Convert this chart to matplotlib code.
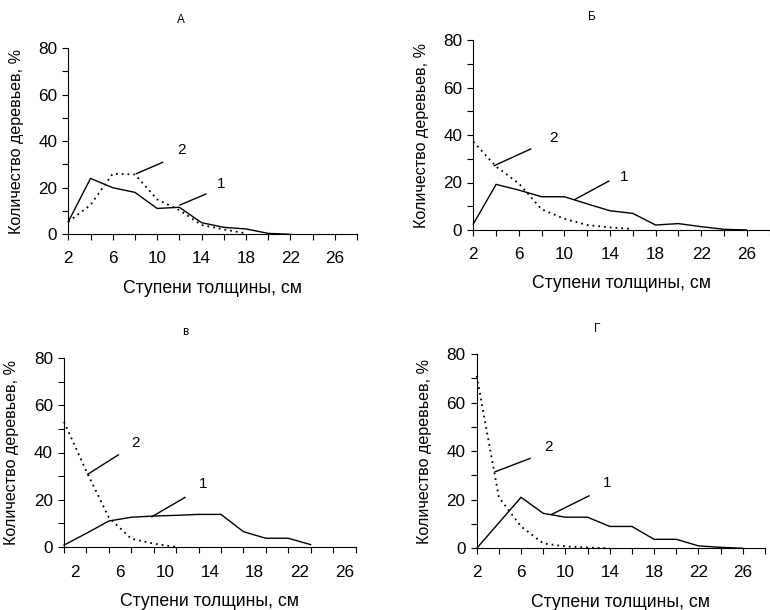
import matplotlib
matplotlib.use("Agg")
import matplotlib.pyplot as plt
import numpy as np

plt.rcParams['font.family'] = ['Liberation Sans', 'DejaVu Sans']

# --- data (% of trees by thickness step, cm) ---
a_x1 = [2, 4, 6, 8, 10, 12, 14, 16, 18, 20, 22]
a_y1 = [5.4, 24, 20, 18, 11.1, 11.6, 5, 3, 2.3, 0.4, 0]
a_x2 = [2, 4, 6, 8, 10, 12, 14, 16, 18]
a_y2 = [5.4, 12.6, 26, 25.7, 15, 10.4, 4, 2.1, 0.4]

b_x1 = [2, 4, 6, 8, 10, 12, 14, 16, 18, 20, 22, 24, 26]
b_y1 = [2.5, 19.2, 16.8, 14, 14, 11, 8.1, 7, 2.1, 2.7, 1.4, 0.3, 0]
b_x2 = [2, 4, 6, 8, 10, 12, 14, 16]
b_y2 = [37.2, 26.7, 19.6, 8.7, 4.7, 2.1, 1.1, 0.4]

v_x1 = [1, 3, 5, 7, 9, 11, 13, 15, 17, 19, 21, 23]
v_y1 = [0.8, 5.8, 11, 12.6, 13.1, 13.4, 13.8, 13.8, 6.5, 3.7, 3.7, 1]
v_x2 = [1, 3, 5, 7, 9, 11]
v_y2 = [53, 32, 12.5, 3.5, 1.4, 0]

g_x1 = [2, 4, 6, 8, 10, 12, 14, 16, 18, 20, 22, 24, 26]
g_y1 = [0, 10.5, 21, 14.4, 12.8, 12.8, 9, 9, 3.7, 3.7, 1, 0.4, 0]
g_x2 = [2, 4, 6, 8, 10, 12, 14]
g_y2 = [71, 21, 9, 2, 0.8, 0.3, 0]

titles = ['А', 'Б', 'в', 'Г']
xlabel = 'Ступени толщины, см'
ylabel = 'Количество деревьев, %'
xtick_labels = [2, 6, 10, 14, 18, 22, 26]
yticks = [0, 20, 40, 60, 80]

W, H = 770, 610


def box(l, r, t, b):
    return [l / W, 1 - b / H, (r - l) / W, (b - t) / H]


panels = [
    dict(rect=box(68.3, 357, 48, 234.3), xlim=(2, 28), x1=a_x1, y1=a_y1, x2=a_x2, y2=a_y2,
         title=(181, 20), lead2=((8.16, 26.1), (10.5, 30.9)), lab2=(12.15, 36),
         lead1=((12.06, 12.6), (14.4, 17.3)), lab1=(15.75, 21.6)),
    dict(rect=box(473.3, 769.5, 40, 230), xlim=(2, 28), x1=b_x1, y1=b_y1, x2=b_x2, y2=b_y2,
         title=(591.7, 17), lead2=((3.84, 27.1), (7.04, 34.1)), lab2=(9.0, 38.6),
         lead1=((10.93, 12.9), (13.9, 20.6)), lab1=(15.26, 22.4)),
    dict(rect=box(64, 355.5, 358, 547), xlim=(1, 27), x1=v_x1, y1=v_y1, x2=v_x2, y2=v_y2,
         title=(185, 331.7), lead2=((3.12, 30.8), (5.85, 39)), lab2=(7.34, 44),
         lead1=((8.83, 12.8), (11.8, 21)), lab1=(13.38, 26.5)),
    dict(rect=box(476.7, 765, 354, 548.3), xlim=(2, 28), x1=g_x1, y1=g_y1, x2=g_x2, y2=g_y2,
         title=(596.7, 329.3), lead2=((3.65, 31.5), (6.81, 37)), lab2=(8.46, 41.8),
         lead1=((8.77, 14), (12.13, 21.6)), lab1=(13.73, 27)),
]

fig = plt.figure(figsize=(7.7, 6.1), dpi=100)

for i, p in enumerate(panels):
    ax = fig.add_axes(p['rect'])
    ax.plot(p['x1'], p['y1'], color='black', lw=1.0, solid_joinstyle='miter', clip_on=False)
    ax.plot(p['x2'], p['y2'], color='black', lw=1.3, linestyle=(0, (1, 2.2)), clip_on=False)

    (x0, y0), (x1, y1) = p['lead2']
    ax.plot([x0, x1], [y0, y1], color='black', lw=1.0)
    ax.text(*p['lab2'], '2', fontsize=11, ha='center', va='center')
    (x0, y0), (x1, y1) = p['lead1']
    ax.plot([x0, x1], [y0, y1], color='black', lw=1.0)
    ax.text(*p['lab1'], '1', fontsize=11, ha='center', va='center')

    ax.set_xlim(*p['xlim'])
    ax.set_ylim(0, 80)
    for s in ['top', 'right']:
        ax.spines[s].set_visible(False)
    for s in ['left', 'bottom']:
        ax.spines[s].set_linewidth(0.8)

    ax.set_yticks(yticks)
    ax.set_yticks([10, 30, 50, 70], minor=True)
    lo, hi = p['xlim']
    if lo == 1:
        # labels sit between the tick marks in this panel
        ax.set_xticks(xtick_labels)
        ax.set_xticks(np.arange(1, 28, 2), minor=True)
        ax.tick_params(axis='x', which='major', length=0, pad=13)
    else:
        ax.set_xticks(xtick_labels)
        ax.set_xticks(np.arange(4, 29, 4), minor=True)
        ax.tick_params(axis='x', which='major', length=4, pad=8)
    ax.tick_params(axis='x', which='minor', length=4, width=0.8)
    ax.tick_params(axis='x', which='major', width=0.8)
    ax.tick_params(axis='y', which='both', length=4, width=0.8, pad=4)
    ax.tick_params(labelsize=12.3)

    ax.set_xlabel(xlabel, fontsize=12.7)
    ax.xaxis.label.set_va('center')
    axh = p['rect'][3] * H
    axw = p['rect'][2] * W
    ax.xaxis.set_label_coords(0.5, -54 / axh)
    ax.set_ylabel(ylabel, fontsize=11.6)
    ax.yaxis.label.set_va('center')
    ax.yaxis.set_label_coords(-52 / axw, 0.5)

    tx, ty = p['title']
    fig.text(tx / W, 1 - ty / H, titles[i], fontsize=8.5, ha='center', va='center')

fig.savefig('out.png', dpi=100)
